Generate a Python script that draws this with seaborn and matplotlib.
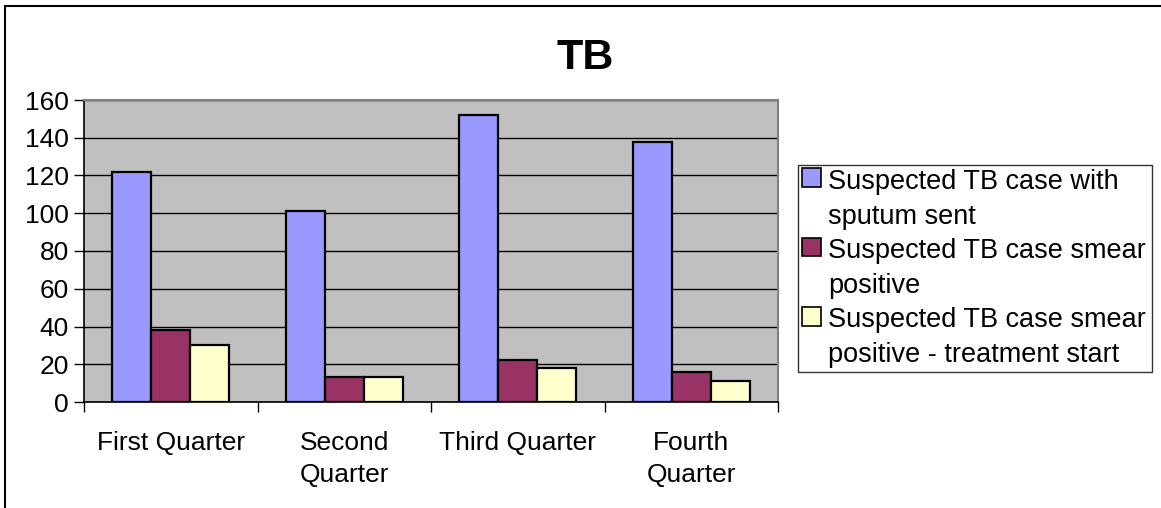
import matplotlib
matplotlib.use("Agg")
import matplotlib.pyplot as plt
import pandas as pd
import seaborn as sns
from matplotlib.lines import Line2D
from matplotlib.patches import Rectangle, Patch
from matplotlib.legend_handler import HandlerPatch

quarters = ["First Quarter", "Second\nQuarter", "Third Quarter", "Fourth\nQuarter"]
series = [
    "Suspected TB case with\nsputum sent",
    "Suspected TB case smear\npositive",
    "Suspected TB case smear\npositive - treatment start",
]
sputum_sent = [122, 101, 152, 138]
smear_positive = [38, 13, 22, 16]
treatment_start = [30, 13, 18, 11]
colors = ["#9999FF", "#993366", "#FFFFCC"]

rows = []
for name, vals in zip(series, [sputum_sent, smear_positive, treatment_start]):
    for q, v in zip(quarters, vals):
        rows.append({"quarter": q, "series": name, "value": v})
df = pd.DataFrame(rows)

sns.set_theme(style="white")
plt.rcParams["font.family"] = ["Liberation Sans", "DejaVu Sans"]
plt.rcParams["text.color"] = "black"
plt.rcParams["xtick.color"] = "black"
plt.rcParams["ytick.color"] = "black"

fig = plt.figure(figsize=(11.61, 5.08), dpi=100)
ax = fig.add_axes([84 / 1161, 1 - 402 / 508, (778 - 84) / 1161, (402 - 100) / 508])
ax.set_facecolor("#C0C0C0")

sns.barplot(data=df, x="quarter", y="value", hue="series", palette=colors,
            width=0.675, edgecolor="black", linewidth=1.6, saturation=1,
            ax=ax, zorder=3)

ax.set_ylim(0, 160)
ax.set_xlim(-0.5, 3.5)
ax.set_yticks(range(0, 161, 20))
ax.yaxis.grid(True, color="black", linewidth=1.0, zorder=0)
ax.set_axisbelow(True)
ax.set_xlabel("")
ax.set_ylabel("")

ax.set_xticks(range(4))
ax.set_xticklabels(quarters, fontsize=19, linespacing=1.4)
ax.set_xticks([-0.5, 0.5, 1.5, 2.5, 3.5], minor=True)
ax.tick_params(axis="x", which="major", length=0, pad=21)
ax.tick_params(axis="x", which="minor", length=7, width=1, color="black", direction="out", bottom=True)
ax.tick_params(axis="y", length=7, width=1, color="black", direction="out", left=True, labelsize=19, pad=4)

for side in ["top", "right"]:
    ax.spines[side].set_color("#808080")
    ax.spines[side].set_linewidth(1.5)
for side in ["left", "bottom"]:
    ax.spines[side].set_color("black")
    ax.spines[side].set_linewidth(1.2)

fig.text(585 / 1161, 1 - 58 / 508, "TB", fontsize=31, fontweight="bold", ha="center", va="center")


# legend square sits next to the first text line, like the original
def top_square(legend, orig_handle, xdescent, ydescent, width, height, fontsize):
    return Rectangle((-xdescent, -ydescent + 16), width, height)


ax.get_legend().remove()
handles = [Patch(facecolor=c, edgecolor="black", linewidth=1.2) for c in colors]
leg = fig.legend(handles, series, loc="upper left",
                 bbox_to_anchor=(798 / 1161, 1 - 372 / 508, (1152 - 798) / 1161, (372 - 165) / 508),
                 mode="expand", fontsize=19.5, frameon=True, fancybox=False, edgecolor="black",
                 handlelength=0.7, handleheight=0.7, handletextpad=0.25, labelspacing=0.3,
                 borderpad=0.15, borderaxespad=0,
                 handler_map={Patch: HandlerPatch(patch_func=top_square)})
leg.get_frame().set_linewidth(1.0)
for t in leg.get_texts():
    t.set_linespacing(1.45)

# outer chart border (top and left visible)
fig.add_artist(Line2D([5 / 1161, 1], [1 - 6 / 508, 1 - 6 / 508], color="black", linewidth=1.5, transform=fig.transFigure))
fig.add_artist(Line2D([5 / 1161, 5 / 1161], [0, 1 - 6 / 508], color="black", linewidth=1.5, transform=fig.transFigure))

fig.savefig("out.png", dpi=100)
